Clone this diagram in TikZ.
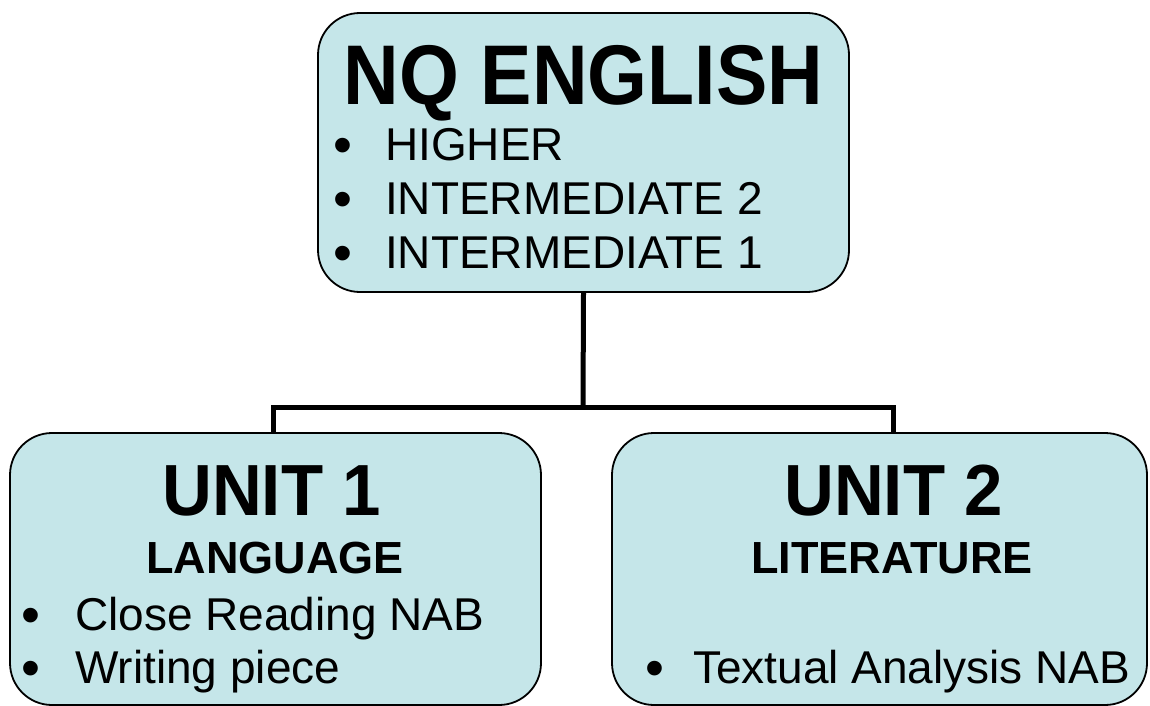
\documentclass[tikz,border=0pt]{standalone}
\usepackage{fontspec}
\setmainfont{Liberation Sans}
\definecolor{boxblue}{RGB}{197,230,233}

\begin{document}
\begin{tikzpicture}[x=1pt, y=1pt]
	\tikzset{unitbox/.style={draw, line width=1.8pt, fill=boxblue, rounded corners=42pt, inner sep=0pt},
		conn/.style={line width=5pt, line join=miter},
		txt/.style={inner sep=0pt, anchor=base},
		item/.style={inner sep=0pt, anchor=base west, font=\fontsize{46}{55}\selectfont},
		dot/.style={inner sep=0pt, anchor=base, font=\fontsize{54}{54}\selectfont}}
	\useasboundingbox (0,0) rectangle (1150,-706);
	
	\coordinate (h) at (583,-407);
	\coordinate (t_1) at (273,-433);
	\coordinate (t_2) at (893,-433);
	
	\node[unitbox, minimum width=531pt, minimum height=279pt] (b_0) at (583.5,-152.5) {};
	\node[unitbox, minimum width=531pt, minimum height=272pt] (b_1) at (275.5,-569) {};
	\node[unitbox, minimum width=535pt, minimum height=272pt] (b_2) at (879.5,-569) {};
	
	\draw[conn] (b_0.south) -- (h);
	\draw[conn] (h) -| (t_1);
	\draw[conn] (h) -| (t_2);
	
	% top box
	\node[txt, font=\bfseries\fontsize{77}{90}\selectfont] (title) at (583.5,-105) {\scalebox{1}[1.1]{NQ ENGLISH}};
	\node[item] (i_1) at (385,-160) {HIGHER};
	\node[item] (i_2) at (385,-214) {INTERMEDIATE 2};
	\node[item] (i_3) at (385,-268) {INTERMEDIATE 1};
	\foreach \y in {160,214,268}
		\node[dot] at (343,-\y-3) {•};
	
	% unit 1
	\node[txt, font=\bfseries\fontsize{69}{80}\selectfont] (u_1) at (271.5,-515) {\scalebox{1}[1.05]{UNIT 1}};
	\node[txt, font=\bfseries\fontsize{45}{54}\selectfont] (s_1) at (275,-573) {LANGUAGE};
	\node[item] (l_1) at (75,-630) {Close Reading NAB};
	\node[item] (l_2) at (75,-683) {Writing piece};
	\foreach \y in {630,683}
		\node[dot] at (31,-\y-3) {•};
	
	% unit 2
	\node[txt, font=\bfseries\fontsize{69}{80}\selectfont] (u_2) at (893.5,-515) {\scalebox{1}[1.05]{UNIT 2}};
	\node[txt, font=\bfseries\fontsize{45}{54}\selectfont] (s_2) at (892,-573) {LITERATURE};
	\node[item] (r_1) at (693,-683) {Textual Analysis NAB};
	\node[dot] at (655,-686) {•};
	
\end{tikzpicture}
\end{document}
